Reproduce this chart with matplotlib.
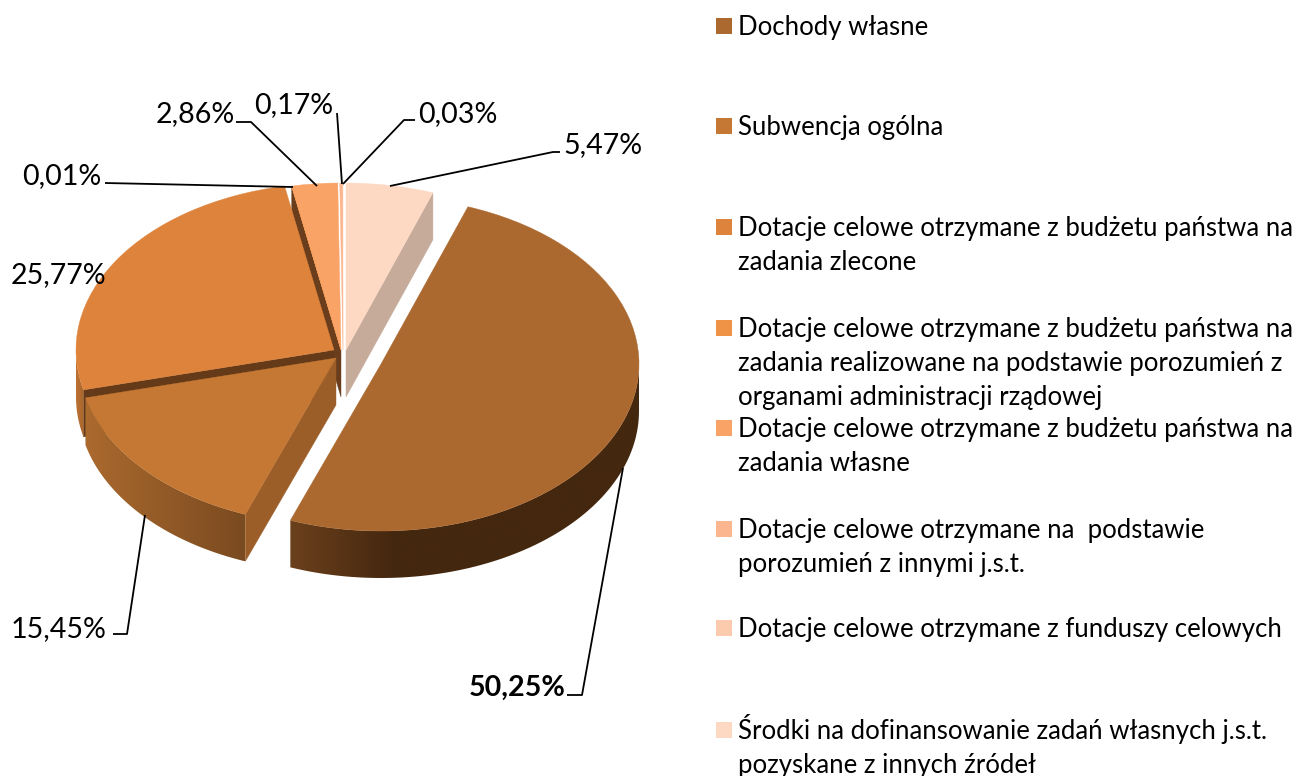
import numpy as np
import matplotlib
matplotlib.use("Agg")
import matplotlib.pyplot as plt
from matplotlib.patches import Wedge, Polygon, Rectangle
from matplotlib.transforms import Affine2D

plt.rcParams['font.family'] = ['Lato', 'DejaVu Sans']

# dane
values = [50.25, 15.45, 25.77, 0.01, 2.86, 0.17, 0.03, 5.47]
colors = ['#AB682F', '#C47834', '#DE833C', '#EF9346', '#F9A366', '#FBB68F', '#FCCBAD', '#FDD9C4']
legend_lines = [
    ['Dochody własne'],
    ['Subwencja ogólna'],
    ['Dotacje celowe otrzymane z budżetu państwa na', 'zadania zlecone'],
    ['Dotacje celowe otrzymane z budżetu państwa na', 'zadania realizowane na podstawie porozumień z', 'organami administracji rządowej'],
    ['Dotacje celowe otrzymane z budżetu państwa na', 'zadania własne'],
    ['Dotacje celowe otrzymane na  podstawie', 'porozumień z innymi j.s.t.'],
    ['Dotacje celowe otrzymane z funduszy celowych'],
    ['Środki na dofinansowanie zadań własnych j.s.t.', 'pozyskane z innych źródeł'],
]

# uklad (piksele)
legend_y = [26, 126, 227, 328, 428, 529, 628, 730]
centers = [(381, 364), (336, 358), (334, 350), (341, 350), (341, 350), (343, 350), (343, 350), (346, 350)]
label_xy = [(469, 686), (11, 627), (11, 273), (22, 174), (156, 112), (254, 103), (418, 112), (563, 143)]
leaders = [
    [(567, 695), (582, 695), (623, 468)],
    [(113, 634), (127, 634), (145, 515)],
    None,
    [(105, 183), (293, 187)],
    [(236, 122), (251, 122), (317, 186)],
    [(337, 113), (342, 184)],
    [(343, 184), (404, 120), (415, 120)],
    [(390, 186), (553, 152), (560, 152)],
]
RX, RY, DEPTH = 258, 167, 47
LABEL_SIZE = 20.6
LEGEND_SIZE = 18.5

fig = plt.figure(figsize=(12.99, 7.76), dpi=100)
ax = fig.add_axes([0, 0, 1, 1])
ax.set_xlim(0, 1299)
ax.set_ylim(776, 0)
ax.axis('off')

# katy wycinkow: zgodnie z ruchem wskazowek, ostatni konczy sie na 12:00
shares = np.array(values) / sum(values) * 360
start = 90 - shares[-1]
t_start = start - np.concatenate(([0], np.cumsum(shares)[:-1]))
t_end = t_start - shares


def rim_points(c, t):
    t = np.radians(t)
    return np.column_stack([c[0] + RX * np.cos(t), c[1] - RY * np.sin(t)])


def draw_rim(c, a, b, stops, z):
    # bok wycinka z gradientem, tylko przednia polowa elipsy
    lo, hi = max(min(a, b), -180), min(max(a, b), 0)
    if lo >= hi:
        return
    top = rim_points(c, np.linspace(lo, hi, 80))
    poly = np.vstack([top, (top + [0, DEPTH])[::-1]])
    patch = Polygon(poly, closed=True, fc='none', ec='none', zorder=z)
    ax.add_patch(patch)
    grad = np.linspace(0, 1, 256).reshape(1, -1)
    cmap = matplotlib.colors.LinearSegmentedColormap.from_list('g', stops)
    im = ax.imshow(grad, cmap=cmap, aspect='auto', zorder=z,
                   extent=(poly[:, 0].min(), poly[:, 0].max(), poly[:, 1].max(), poly[:, 1].min()))
    im.set_clip_path(patch)


def draw_cut(c, t, col, z):
    # sciana przekroju od srodka do krawedzi
    p = rim_points(c, np.array([t]))[0]
    ax.add_patch(Polygon([c, p, p + [0, DEPTH], (c[0], c[1] + DEPTH)], closed=True, fc=col, ec=col, lw=0.3, zorder=z))


def draw_top(i, z):
    tr = Affine2D().scale(RX, -RY).translate(*centers[i]) + ax.transData
    ax.add_patch(Wedge((0, 0), 1, t_end[i], t_start[i], fc=colors[i], ec=colors[i], lw=0.3, transform=tr, zorder=z))


# od tylu do przodu
draw_cut(centers[7], t_end[7], '#C7AB9A', 1)
draw_cut(centers[4], t_start[4], '#6A3E1C', 2)
for i in [7, 6, 5, 3, 4]:
    draw_top(i, 3)

draw_cut(centers[2], t_start[2], '#653A18', 4)
draw_rim(centers[2], t_start[2], t_end[2], ['#BC7232', '#A8652C'], 4)
draw_top(2, 5)

draw_rim(centers[1], t_start[1], t_end[1], ['#AB6A2E', '#7A4A20'], 6)
draw_cut(centers[1], t_start[1], '#9C5E29', 6)
draw_top(1, 7)

draw_rim(centers[0], t_start[0], t_end[0], [(0, '#6B401C'), (0.3, '#44270F'), (1, '#44270F')], 8)
draw_top(0, 9)

# etykiety danych i linie odniesienia
for i, v in enumerate(values):
    txt = f'{v:.2f}%'.replace('.', ',')
    ax.text(label_xy[i][0], label_xy[i][1] + 10, txt, fontsize=LABEL_SIZE, color='black',
            fontweight='bold' if i == 0 else 'normal', va='baseline', ha='left', zorder=12)
    if leaders[i] is not None:
        xs, ys = zip(*leaders[i])
        ax.plot(xs, ys, color='black', lw=1.3, zorder=11, solid_capstyle='butt')

# legenda
for i, lines in enumerate(legend_lines):
    y = legend_y[i]
    ax.add_patch(Rectangle((716, y - 8), 16, 16, fc=colors[i], ec='none', zorder=10))
    for j, line in enumerate(lines):
        ax.text(738, y + 9 + j * 34, line, fontsize=LEGEND_SIZE, color='black', va='baseline', ha='left', zorder=12)

ax.set_xlim(0, 1299)
ax.set_ylim(776, 0)
fig.savefig('out.png', dpi=100)
